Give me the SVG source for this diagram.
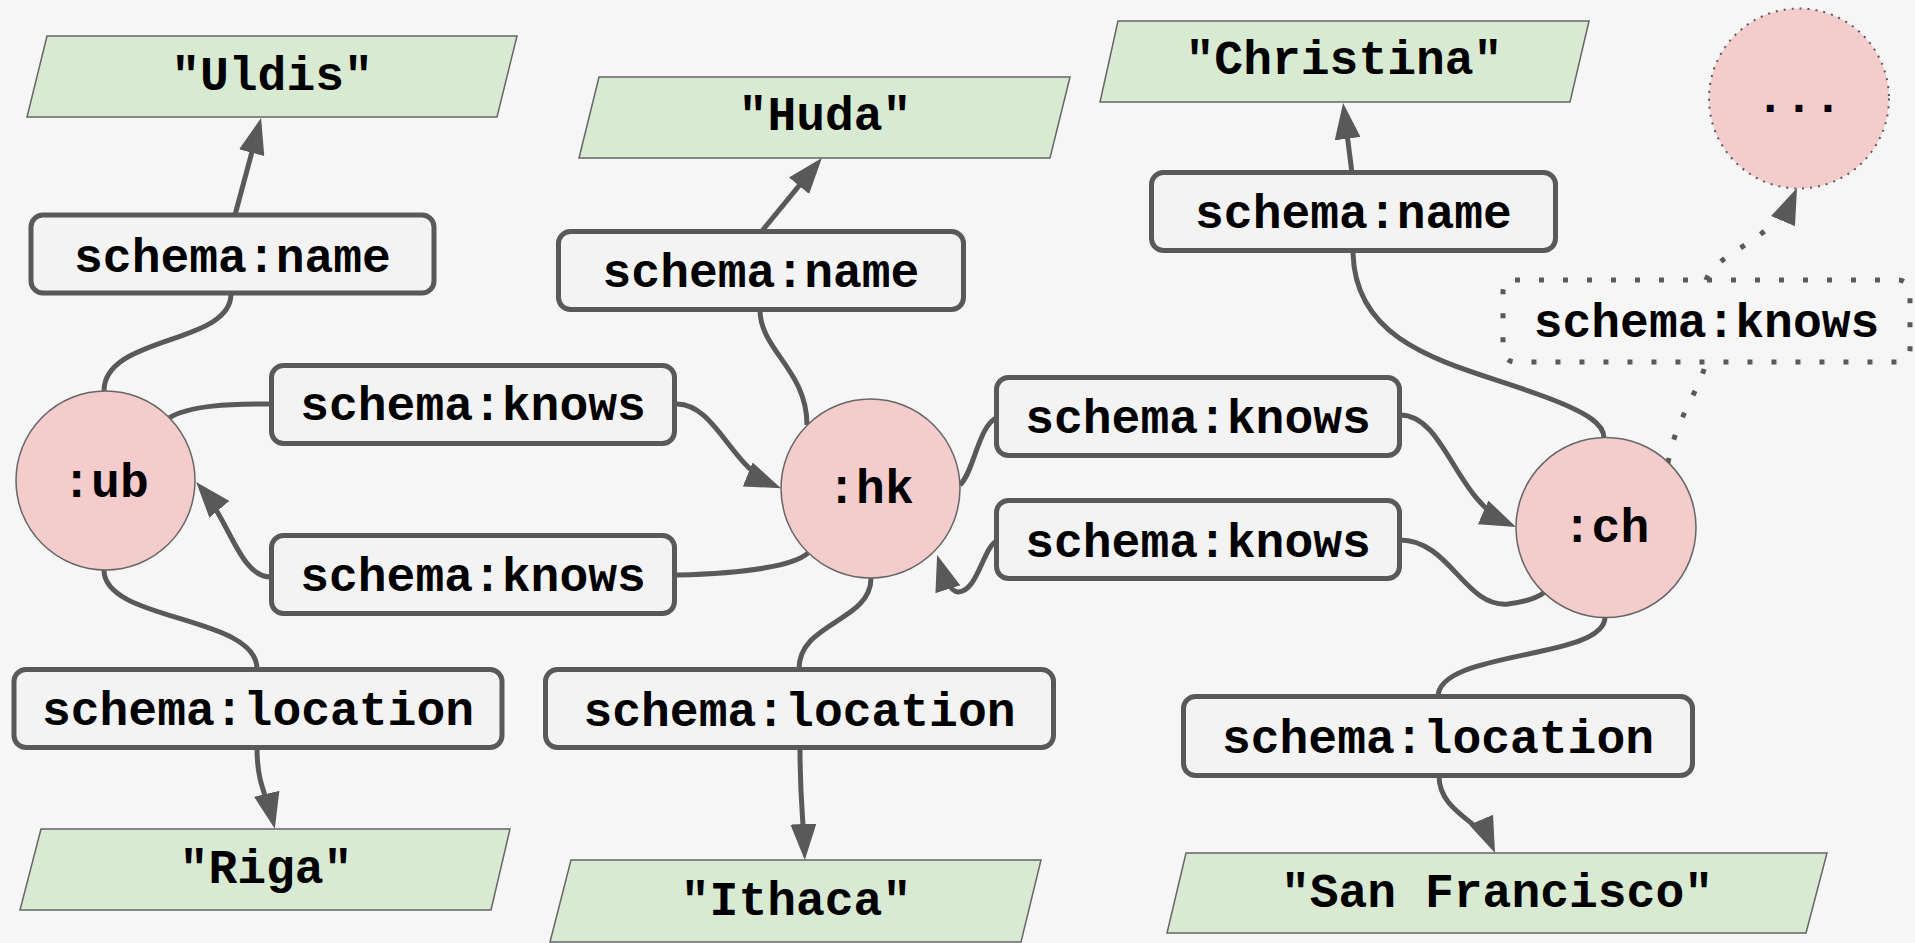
<svg xmlns="http://www.w3.org/2000/svg" width="1915" height="943" viewBox="0 0 1915 943">
  <defs>
    <style>
      .bg { fill: #f6f6f6; }
      .lit { fill: #d9ead3; stroke: #666666; stroke-width: 1.5; }
      .res { fill: #f4cccc; stroke: #666666; stroke-width: 1.5; }
      .more { fill: #f4cccc; stroke: #595959; stroke-width: 2; stroke-dasharray: 2 6; }
      .prop { fill: #f3f3f3; stroke: #595959; stroke-width: 5; }
      .dotbox { fill: none; stroke: #595959; stroke-width: 5; stroke-dasharray: 5 19; }
      .edge { fill: none; stroke: #595959; stroke-width: 5; }
      .arrow { marker-end: url(#head); }
      .dotted { stroke-dasharray: 5 19; }
      text { font-family: "Liberation Mono", "Courier New", monospace; font-weight: bold; font-size: 48px; fill: #000000; text-anchor: middle; }
    </style>
    <marker id="head" markerUnits="userSpaceOnUse" markerWidth="36" markerHeight="26" viewBox="0 0 36 26" refX="28" refY="13" orient="auto">
      <path d="M0,0 L36,13 L0,26 z" fill="#595959"/>
    </marker>
  </defs>

  <rect class="bg" x="0" y="0" width="1915" height="943"/>

  <!-- connectors -->
  <g id="edges">
    <path class="edge arrow" d="M235,215 L259,125.7"/>
    <path class="edge" d="M104,391 C104,335 231,345 231,294"/>
    <path class="edge" d="M169,418 C190,405 230,404 271,404"/>
    <path class="edge arrow" d="M677,404 C715,404 732,468 773.6,485.1"/>
    <path class="edge arrow" d="M271,577 C240,577 230,522 201.3,488"/>
    <path class="edge" d="M677,575 C750,573 795,565 808,553"/>
    <path class="edge" d="M104,570 C104,622 257,615 257,669"/>
    <path class="edge arrow" d="M257,748 C257,785 267,795 273,821"/>
    <path class="edge arrow" d="M762,231 L816.8,164.1"/>
    <path class="edge" d="M760,310 C760,350 807,370 807,425"/>
    <path class="edge" d="M871,578 C871,622 799,622 799,669"/>
    <path class="edge arrow" d="M800,748 C800,800 803,815 804.5,852"/>
    <path class="edge" d="M960,485 C975,470 978,425 998,417"/>
    <path class="edge arrow" d="M998,540 C983,546 978,592 958,592 C950,592 944,577 939.5,562.6"/>
    <path class="edge arrow" d="M1400,415 C1445,415 1455,500 1508.7,523.8"/>
    <path class="edge" d="M1400,540 C1450,540 1465,608 1508,604 C1525,602 1537,598 1545,592"/>
    <path class="edge" d="M1353,250 C1353,350 1460,365 1540,395 C1590,413 1604,425 1604,438"/>
    <path class="edge arrow" d="M1352,173 L1344.1,110.9"/>
    <path class="edge" d="M1605,617 C1605,660 1438,650 1438,697"/>
    <path class="edge arrow" d="M1439,776 C1439,812 1482,822 1491.9,845.6"/>
    <path class="edge dotted" d="M1668,463 C1675,420 1700,390 1706,362"/>
    <path class="edge dotted arrow" d="M1706,280 C1716,252 1775,240 1793.9,195.4"/>
  </g>

  <!-- literal values -->
  <g id="lit-uldis">
    <polygon class="lit" points="47,36 517,36 497,117 27,117"/>
    <text x="272" y="90">"Uldis"</text>
  </g>
  <g id="lit-huda">
    <polygon class="lit" points="599,77 1070,77 1050,158 579,158"/>
    <text x="825" y="130">"Huda"</text>
  </g>
  <g id="lit-christina">
    <polygon class="lit" points="1118,21 1589,21 1570,102 1100,102"/>
    <text x="1344" y="74">"Christina"</text>
  </g>
  <g id="lit-riga">
    <polygon class="lit" points="41,829 510,829 491,910 20,910"/>
    <text x="266" y="883">"Riga"</text>
  </g>
  <g id="lit-ithaca">
    <polygon class="lit" points="571,860 1041,860 1021,942 550,942"/>
    <text x="796" y="915">"Ithaca"</text>
  </g>
  <g id="lit-sf">
    <polygon class="lit" points="1186,853 1827,853 1806,933 1167,933"/>
    <text x="1497" y="907">"San Francisco"</text>
  </g>

  <!-- resources -->
  <g id="res-ub">
    <circle class="res" cx="105.5" cy="480.5" r="89.5"/>
    <text x="105.5" y="497">:ub</text>
  </g>
  <g id="res-hk">
    <circle class="res" cx="870.5" cy="488.5" r="89.5"/>
    <text x="870.5" y="503">:hk</text>
  </g>
  <g id="res-ch">
    <circle class="res" cx="1606" cy="527.5" r="90"/>
    <text x="1606" y="542">:ch</text>
  </g>
  <g id="res-more">
    <circle class="more" cx="1799" cy="98.5" r="90"/>
    <text x="1799" y="112">...</text>
  </g>

  <!-- properties -->
  <g id="prop-ub-name">
    <rect class="prop" x="31" y="215" width="403" height="78" rx="12"/>
    <text x="232.5" y="272">schema:name</text>
  </g>
  <g id="prop-ub-knows">
    <rect class="prop" x="271.5" y="365.5" width="403" height="78" rx="12"/>
    <text x="473" y="420">schema:knows</text>
  </g>
  <g id="prop-hk-knows-ub">
    <rect class="prop" x="271.5" y="535.5" width="403" height="78" rx="12"/>
    <text x="473" y="591">schema:knows</text>
  </g>
  <g id="prop-ub-location">
    <rect class="prop" x="14" y="669.5" width="488" height="78" rx="12"/>
    <text x="258" y="725">schema:location</text>
  </g>
  <g id="prop-hk-name">
    <rect class="prop" x="558.5" y="231.5" width="405" height="78" rx="12"/>
    <text x="761" y="287">schema:name</text>
  </g>
  <g id="prop-hk-location">
    <rect class="prop" x="545.5" y="669.5" width="508" height="78" rx="12"/>
    <text x="799.5" y="726">schema:location</text>
  </g>
  <g id="prop-hk-knows-ch">
    <rect class="prop" x="996.5" y="377.5" width="403" height="78" rx="12"/>
    <text x="1198" y="433">schema:knows</text>
  </g>
  <g id="prop-ch-knows-hk">
    <rect class="prop" x="996.5" y="500.5" width="403" height="78" rx="12"/>
    <text x="1198" y="557">schema:knows</text>
  </g>
  <g id="prop-ch-name">
    <rect class="prop" x="1151.5" y="172.5" width="404" height="78" rx="12"/>
    <text x="1353.5" y="228">schema:name</text>
  </g>
  <g id="prop-ch-location">
    <rect class="prop" x="1183.5" y="696.5" width="509" height="79" rx="12"/>
    <text x="1438" y="753">schema:location</text>
  </g>
  <g id="prop-ch-knows-more">
    <rect class="dotbox" x="1503" y="280" width="407" height="82" rx="12"/>
    <text x="1706.5" y="337">schema:knows</text>
  </g>
</svg>
